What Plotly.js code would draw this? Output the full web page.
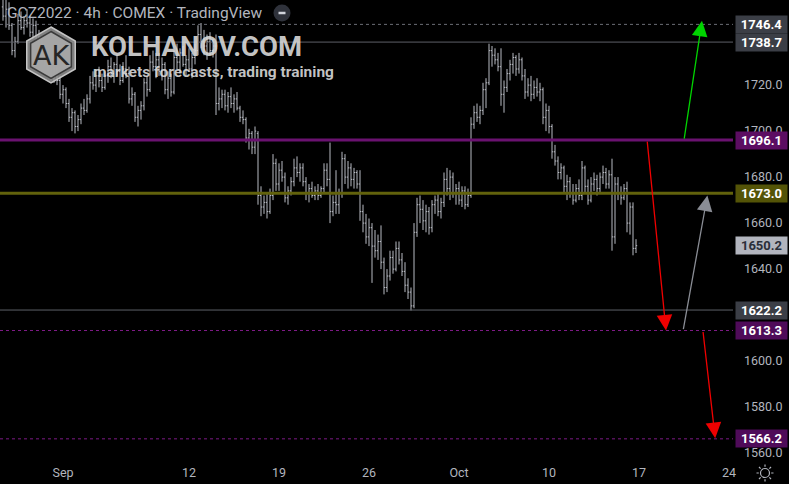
<!DOCTYPE html>
<html>
<head>
<meta charset="utf-8">
<script src="https://cdn.plot.ly/plotly-3.0.1.min.js"></script>
<style>
  html, body { margin:0; padding:0; background:#000; }
  #chart { width:789px; height:484px; }
</style>
</head>
<body>
<div id="chart"></div>
<script>
// ---- Data: GCZ2022 4h bars ----
const opens = [
1754,1750,1753,1746,1735,1739,1748,1745,1748,1747,1743,1746,
1741,1737,1732,1735,1728,1724,1727,1722,1716,1718,1712,1706,
1708,1702,1705,1710,1709,1714,1721,1720,1724,1722,1719,1724,
1728,1725,1729,1726,1722,1727,1725,1714,1716,1706,1709,1711,
1721,1718,1730,1728,1731,1726,1729,1718,1723,1717,1732,1730,
1734,1729,1731,1727,1732,1735,1742,1739,1737,1739,1735,1737,
1712,1714,1716,1711,1715,1712,1714,1710,1706,1705,1697,1699,
1693,1699,1672,1667,1669,1665,1672,1686,1677,1683,1680,1671,
1674,1678,1684,1682,1684,1678,1673,1675,1672,1674,1672,1675,
1683,1679,1665,1669,1668,1673,1688,1680,1684,1679,1682,1677,
1665,1660,1654,1658,1650,1648,1652,1643,1632,1637,1645,1640,
1649,1644,1639,1633,1630,1624,1656,1668,1666,1661,1665,1658,
1668,1670,1665,1669,1679,1675,1680,1673,1675,1670,1674,1668,
1672,1703,1708,1706,1709,1718,1721,1735,1733,1731,1728,1716,
1719,1725,1729,1732,1727,1731,1724,1717,1720,1716,1719,1717,
1718,1706,1709,1702,1691,1687,1682,1684,1676,1678,1673,1670,
1675,1672,1684,1676,1670,1677,1679,1675,1680,1682,1677,1681,
1654,1677,1673,1671,1675,1660,1667,1649];
const highs = [
1758,1757,1756,1747,1741,1751,1752,1750,1753,1750,1749,1748,
1744,1740,1737,1736,1731,1729,1728,1724,1720,1719,1714,1710,
1709,1707,1712,1714,1716,1724,1726,1727,1728,1725,1726,1731,
1732,1730,1733,1729,1730,1733,1728,1719,1717,1711,1713,1723,
1724,1733,1735,1734,1734,1732,1730,1726,1725,1735,1738,1736,
1737,1733,1736,1734,1738,1746,1747,1744,1742,1743,1740,1742,
1719,1718,1718,1717,1719,1716,1717,1711,1709,1706,1701,1700,
1702,1700,1676,1672,1673,1675,1690,1688,1686,1687,1682,1676,
1680,1688,1689,1686,1686,1680,1677,1678,1676,1677,1676,1686,
1686,1695,1672,1683,1675,1691,1690,1687,1686,1684,1683,1683,
1668,1664,1662,1660,1657,1655,1659,1645,1640,1648,1648,1652,
1652,1647,1643,1636,1632,1660,1671,1672,1670,1668,1667,1670,
1672,1673,1671,1682,1684,1683,1682,1677,1678,1676,1676,1675,
1706,1711,1712,1711,1721,1723,1738,1737,1736,1734,1736,1722,
1727,1731,1734,1733,1734,1732,1727,1723,1724,1722,1723,1721,
1719,1712,1711,1703,1694,1689,1686,1685,1681,1680,1677,1677,
1679,1687,1685,1679,1680,1682,1681,1682,1685,1684,1683,1688,
1680,1680,1676,1677,1678,1669,1669,1653];
const lows = [
1748,1745,1744,1733,1732,1738,1744,1742,1745,1741,1740,1739,
1735,1730,1728,1726,1722,1721,1720,1714,1712,1710,1704,1700,
1699,1700,1703,1707,1708,1712,1718,1717,1719,1717,1718,1721,
1723,1721,1724,1720,1721,1723,1712,1711,1704,1702,1705,1709,
1715,1717,1726,1723,1724,1722,1716,1714,1715,1716,1727,1725,
1728,1724,1726,1723,1729,1733,1736,1733,1731,1733,1732,1707,
1709,1710,1709,1708,1710,1708,1709,1704,1703,1695,1692,1690,
1690,1668,1663,1664,1662,1664,1670,1674,1674,1678,1669,1668,
1672,1676,1680,1678,1676,1670,1669,1671,1670,1670,1671,1673,
1676,1660,1663,1664,1664,1671,1677,1675,1676,1675,1675,1661,
1656,1651,1650,1634,1645,1644,1640,1629,1630,1635,1638,1639,
1642,1637,1630,1627,1622,1623,1654,1660,1657,1656,1655,1656,
1664,1663,1662,1667,1672,1670,1671,1668,1668,1667,1666,1667,
1671,1701,1704,1703,1707,1710,1720,1728,1729,1726,1711,1708,
1717,1722,1725,1724,1725,1722,1714,1715,1713,1714,1715,1713,
1703,1700,1699,1688,1685,1679,1679,1673,1670,1671,1668,1669,
1670,1670,1673,1668,1669,1674,1672,1673,1677,1675,1675,1648,
1651,1670,1668,1670,1656,1655,1646,1647];
const closes = [
1750,1753,1746,1735,1739,1748,1745,1748,1747,1743,1746,1741,
1737,1732,1735,1728,1724,1727,1722,1716,1718,1712,1706,1708,
1702,1705,1710,1709,1714,1721,1720,1724,1722,1719,1724,1728,
1725,1729,1726,1722,1727,1725,1714,1716,1706,1709,1711,1721,
1718,1730,1728,1731,1726,1729,1718,1723,1717,1732,1730,1734,
1729,1731,1727,1732,1735,1742,1739,1737,1739,1735,1737,1712,
1714,1716,1711,1715,1712,1714,1710,1706,1705,1697,1699,1693,
1700,1672,1667,1669,1665,1672,1686,1677,1683,1680,1671,1674,
1678,1684,1682,1684,1678,1673,1675,1672,1674,1672,1675,1683,
1679,1665,1669,1668,1673,1688,1680,1684,1679,1682,1677,1665,
1660,1654,1658,1650,1648,1652,1643,1632,1637,1645,1640,1649,
1644,1639,1633,1630,1624,1656,1668,1666,1661,1665,1658,1668,
1670,1665,1669,1679,1675,1680,1673,1675,1670,1674,1668,1672,
1703,1708,1706,1709,1718,1721,1735,1733,1731,1728,1716,1719,
1725,1729,1732,1727,1731,1724,1717,1720,1716,1719,1717,1718,
1706,1709,1702,1691,1687,1682,1684,1676,1678,1673,1670,1675,
1672,1684,1676,1670,1677,1679,1675,1680,1682,1677,1681,1654,
1677,1673,1671,1675,1660,1667,1649,1650.2];

// x-axis ticks (bar positions of session starts) and labels
const tickBars   = [21, 63, 93, 123, 153, 183, 213, 243];
const tickLabels = ['Sep', '12', '19', '26', 'Oct', '10', '17', '24'];
// 1620 and 1740 are hidden behind price labels in the reference
const priceTicks = [1560, 1580, 1600, 1640, 1660, 1680, 1700, 1720];

// horizontal levels drawn on the chart
const levelPrices = [1746.4, 1738.7, 1696.1, 1673.0, 1622.2, 1613.3, 1566.2];
const levelColors = ['#6b6e76', '#5d6068', '#6a1270', '#62620c', '#5d6068', '#7d1a85', '#7d1a85'];
const levelWidths = [1, 1, 3, 3, 1, 1, 1];
const levelDash   = ['dot', 'solid', 'solid', 'solid', 'solid', 'dot', 'dot'];

// price labels on the axis
const labelPrices = [1746.4, 1738.7, 1696.1, 1673.0, 1650.2, 1622.2, 1613.3, 1566.2];
const labelBg     = ['#3b3e46', '#3b3e46', '#5c0d62', '#545407', '#b2b5be', '#3b3e46', '#4f0b59', '#4f0b59'];
const labelFg     = ['#ffffff', '#ffffff', '#ffffff', '#ffffff', '#2a2e39', '#ffffff', '#ffffff', '#ffffff'];

// forecast arrows: [fromBar, fromPrice, toBar, toPrice]
const arrowFrom  = [[215.7, 1696.1], [227.7, 1613.3], [228.0, 1696.1], [234.3, 1613.3]];
const arrowTo    = [[222.0, 1613.3], [235.8, 1672.0], [234.0, 1748.0], [238.4, 1566.5]];
const arrowColor = ['#f00000', '#8a8d95', '#00d400', '#f00000'];

// ---- build ----
const xs = opens.map((_, i) => i + 1);
const W = 733, H = 460;
const pxX = x => x / W;
const pxY = y => 1 - y / H;

const trace = {
  type: 'ohlc', x: xs, open: opens, high: highs, low: lows, close: closes,
  increasing: { line: { color: '#b8bbc3', width: 1 } },
  decreasing: { line: { color: '#b8bbc3', width: 1 } },
  tickwidth: 0.4, hoverinfo: 'skip', showlegend: false
};

const shapes = [];
levelPrices.forEach((p, i) => {
  shapes.push({ type: 'line', xref: 'paper', x0: 0, x1: 1, yref: 'y', y0: p, y1: p,
    line: { color: levelColors[i], width: levelWidths[i], dash: levelDash[i] }, layer: 'above' });
});

function hexPath(cx, cy, r) {
  const pts = [];
  for (let k = 0; k < 6; k++) {
    const a = (-90 + 60 * k) * Math.PI / 180;
    pts.push(pxX(cx + r * Math.cos(a)).toFixed(5) + ',' + pxY(cy + r * Math.sin(a)).toFixed(5));
  }
  return 'M' + pts.join('L') + 'Z';
}
// logo hexagon
shapes.push({ type: 'path', xref: 'paper', yref: 'paper', path: hexPath(51, 55, 28),
  fillcolor: 'rgba(150,150,150,0.85)', line: { color: '#c4c4c4', width: 1.5 }, layer: 'above' });
shapes.push({ type: 'path', xref: 'paper', yref: 'paper', path: hexPath(51, 55, 23.5),
  fillcolor: 'rgba(168,168,168,0.9)', line: { color: '#3a3a3a', width: 1.5 }, layer: 'above' });
// minus button near title
shapes.push({ type: 'circle', xref: 'paper', yref: 'paper', x0: pxX(273.5), x1: pxX(290.5), y0: pxY(21.5), y1: pxY(4.5),
  fillcolor: '#2f323b', line: { width: 0 }, layer: 'above' });
shapes.push({ type: 'line', xref: 'paper', yref: 'paper', x0: pxX(278.5), x1: pxX(285.5), y0: pxY(13), y1: pxY(13),
  line: { color: '#d1d4dc', width: 2.5 }, layer: 'above' });
// settings (sun) icon bottom right
shapes.push({ type: 'circle', xref: 'paper', yref: 'paper', x0: pxX(760.5), x1: pxX(769.5), y0: pxY(477.5), y1: pxY(468.5),
  line: { color: '#b2b5be', width: 1.2 } });
let rays = '';
for (let k = 0; k < 8; k++) {
  const a = k * Math.PI / 4;
  rays += 'M' + pxX(765 + 6.2 * Math.cos(a)).toFixed(5) + ',' + pxY(473 + 6.2 * Math.sin(a)).toFixed(5) +
          'L' + pxX(765 + 8.5 * Math.cos(a)).toFixed(5) + ',' + pxY(473 + 8.5 * Math.sin(a)).toFixed(5);
}
shapes.push({ type: 'path', xref: 'paper', yref: 'paper', path: rays, line: { color: '#b2b5be', width: 1.2 } });

const annotations = [];
labelPrices.forEach((p, i) => {
  annotations.push({ xref: 'paper', x: 1, xanchor: 'left', xshift: 2, yref: 'y', y: p, yanchor: 'middle',
    text: '<b>' + p.toFixed(1) + '</b>', showarrow: false, bgcolor: labelBg[i], width: 47, height: 13,
    borderpad: 2, align: 'center', font: { family: 'Roboto, sans-serif', size: 13, color: labelFg[i] } });
});
arrowFrom.forEach((f, i) => {
  annotations.push({ xref: 'x', yref: 'y', axref: 'x', ayref: 'y', x: arrowTo[i][0], y: arrowTo[i][1],
    ax: f[0], ay: f[1], text: '', showarrow: true, arrowhead: 2, arrowsize: 2.4, arrowwidth: 1.3,
    arrowcolor: arrowColor[i], standoff: 0, startstandoff: 0 });
});
// title
annotations.push({ xref: 'paper', yref: 'paper', x: pxX(5), y: pxY(13), xanchor: 'left', yanchor: 'middle',
  text: 'GCZ2022 · 4h · COMEX · TradingView', showarrow: false,
  font: { family: 'Roboto, sans-serif', size: 15.5, color: '#b2b5be' } });
// watermark
annotations.push({ xref: 'paper', yref: 'paper', x: pxX(51), y: pxY(56), xanchor: 'center', yanchor: 'middle',
  text: 'AK', showarrow: false, font: { family: 'DejaVu Sans, sans-serif', size: 27, color: '#262626' } });
annotations.push({ xref: 'paper', yref: 'paper', x: pxX(90), y: pxY(46.5), xanchor: 'left', yanchor: 'middle',
  text: '<b>KOLHANOV.COM</b>', showarrow: false, borderpad: 0,
  font: { family: 'Roboto, sans-serif', size: 27.5, color: 'rgba(222,222,222,0.88)' } });
annotations.push({ xref: 'paper', yref: 'paper', x: pxX(92), y: pxY(71.5), xanchor: 'left', yanchor: 'middle',
  text: '<b>markets forecasts, trading training</b>', showarrow: false, borderpad: 0,
  font: { family: 'Roboto, sans-serif', size: 15.5, color: 'rgba(222,222,222,0.88)' } });

const layout = {
  width: 789, height: 484,
  margin: { l: 0, r: 56, t: 0, b: 24, pad: 0 },
  paper_bgcolor: '#000000', plot_bgcolor: '#000000',
  showlegend: false,
  font: { family: 'Roboto, sans-serif', color: '#b2b5be', size: 12 },
  xaxis: { range: [0, W / 3], tickvals: tickBars, ticktext: tickLabels, showgrid: false, zeroline: false,
    showline: false, ticks: '', rangeslider: { visible: false }, fixedrange: true,
    tickfont: { size: 12.5, color: '#b2b5be' }, ticklabelstandoff: 3 },
  yaxis: { range: [1557, 1757], side: 'right', tickvals: priceTicks, ticktext: priceTicks.map(v => v.toFixed(1)),
    showgrid: false, zeroline: false, showline: false, ticks: '', fixedrange: true,
    tickfont: { size: 12.5, color: '#b2b5be' }, ticklabelstandoff: 10 },
  shapes: shapes,
  annotations: annotations
};

Plotly.newPlot('chart', [trace], layout, { displayModeBar: false, staticPlot: true });
</script>
</body>
</html>
